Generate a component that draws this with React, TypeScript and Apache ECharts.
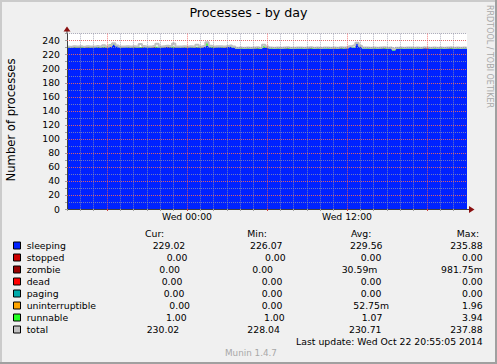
import React, { useEffect, useRef } from "react";
import * as echarts from "echarts";

const FONT = "DejaVu Sans";

// x categories: Tue 15:00 .. Wed 21:00 every 15 minutes
const START_MINUTES = 15 * 60;
const STEP_MINUTES = 15;
const POINT_COUNT = 121;
const pad2 = (n: number) => String(n).padStart(2, "0");
const categories: string[] = Array.from({ length: POINT_COUNT }, (_, i) => {
  const m = START_MINUTES + i * STEP_MINUTES;
  const day = m >= 1440 ? "Wed" : "Tue";
  const mm = m % 1440;
  return `${day} ${pad2(Math.floor(mm / 60))}:${pad2(mm % 60)}`;
});
const xTickLabels = ["Wed 00:00", "Wed 12:00"];
const majorHours = [0, 6, 12, 18];

const sleeping = [
  230.5, 230.2, 230.8, 230.4, 230.6, 230.1, 230.9, 230.3, 230.5, 230.7,
  230.2, 230.6, 230.4, 231.5, 234.6, 232.0, 230.3, 230.5, 230.8, 230.2,
  230.6, 230.4, 230.1, 230.7, 230.5, 230.3, 230.9, 230.4, 230.2, 230.6,
  231.2, 230.8, 230.4, 230.5, 230.3, 230.7, 230.4, 230.6, 230.2, 230.5,
  230.3, 231.0, 232.5, 230.6, 230.4, 230.8, 230.5, 230.2, 230.9, 231.8,
  230.4, 229.0, 228.8, 228.6, 229.0, 228.7, 228.9, 229.2, 228.5, 229.6,
  230.2, 229.0, 228.7, 228.9, 228.6, 228.8, 229.1, 228.7, 228.5, 228.9,
  229.0, 228.6, 228.8, 229.2, 228.7, 228.9, 228.4, 228.8, 229.0, 228.7,
  228.9, 228.6, 229.3, 228.8, 229.4, 231.0, 229.8, 235.88, 231.5, 229.0,
  228.8, 228.6, 229.0, 228.7, 228.9, 229.2, 228.6, 228.8, 226.07, 228.7,
  228.9, 228.5, 228.8, 229.0, 228.6, 228.9, 228.7, 229.1, 228.8, 228.6,
  229.0, 228.7, 228.9, 228.6, 228.8, 229.1, 228.7, 228.9, 228.6, 228.8,
  229.02,
];
const stopped = new Array(POINT_COUNT).fill(0);
const zombie = [
  0, 0, 0, 0, 0, 0, 0, 0, 0, 0,
  0, 0, 0, 0, 0, 0, 0, 0, 0, 0,
  0, 0, 0, 0, 0, 0, 0, 0, 0, 0,
  0, 0, 0, 0, 0, 0, 0, 0, 0, 0,
  0, 0, 0, 0, 0, 0, 0, 0, 0, 0,
  0, 0, 0, 0, 0, 0, 0, 0, 0, 0,
  0, 0, 0, 0, 0, 0, 0, 0, 0, 0,
  0, 0, 0, 0, 0, 0, 0, 0, 0, 0,
  0, 0, 0, 0, 0, 0, 0, 0, 0, 0,
  0, 0, 0, 0, 0, 0, 0, 0, 0, 0,
  0, 0, 0, 0, 0, 0, 0, 0, 0.98, 0,
  0, 0, 0, 0, 0, 0, 0, 0, 0, 0,
  0,
];
const dead = new Array(POINT_COUNT).fill(0);
const paging = new Array(POINT_COUNT).fill(0);
const uninterruptible = [
  0, 0, 0, 0, 0, 0, 0, 0, 0, 0,
  0, 0, 0, 1.96, 0, 0, 0, 0, 0, 0,
  0, 0, 0, 0, 0, 0, 0, 0, 0, 0,
  1, 0, 0, 0, 0, 0, 0, 0, 0, 0,
  0, 0, 0, 0, 0, 0, 0, 0, 0, 0,
  0, 0, 0, 0, 0, 0, 0, 0, 0, 0,
  0, 0, 0, 0, 0, 0, 0, 0, 0, 0,
  0, 0, 0, 0, 0, 0, 0, 0, 0, 0,
  1, 0, 0, 0, 0, 0, 0, 0, 0, 0,
  0, 0, 0, 0, 0, 0, 0, 0, 0, 0,
  0, 0, 0, 0, 0, 0, 0, 0, 0, 0,
  0, 0, 0, 0, 0, 0, 0, 0, 0, 0,
  0,
];
const runnable = [
  1, 1, 1, 1, 1, 1, 1, 1, 1, 1,
  1, 1, 1, 1, 1, 1, 1, 1, 1, 1,
  2, 1, 1, 1, 1, 1, 1, 1, 1, 1,
  1, 1, 1, 1, 1, 1, 1, 1, 1, 1,
  1, 1, 3.94, 1, 1, 1, 1, 1, 1, 1,
  1, 1, 1, 1, 1, 1, 1, 1, 1, 2.6,
  1, 1, 1, 1, 1, 1, 1, 1, 1, 1,
  1, 1, 1, 1, 1, 2, 1, 1, 1, 1,
  1, 1, 1, 1, 1, 1, 1, 1, 1, 1,
  1, 1, 1, 1, 1, 1, 1, 1, 1.95, 1,
  2, 1, 1, 1, 1, 1, 1, 1, 1, 1,
  1, 1, 1, 1, 1, 1, 1, 1, 1, 1,
  1,
];
const total = [
  231.7, 231.5, 232.0, 231.7, 232.2, 231.3, 232.1, 231.7, 231.8, 232.3,
  231.7, 233.5, 231.9, 233.2, 236.3, 233.2, 231.7, 231.6, 232.1, 231.7,
  232.1, 231.9, 235.2, 232.3, 231.7, 231.8, 232.5, 235.7, 231.7, 232.1,
  232.7, 232.3, 236.2, 231.7, 231.8, 232.1, 231.7, 232.0, 231.7, 234.2,
  231.7, 232.5, 237.88, 232.7, 231.9, 232.2, 232.0, 231.7, 232.3, 233.3,
  231.7, 230.0, 230.2, 229.8, 230.4, 230.0, 230.2, 230.6, 229.8, 234.2,
  231.7, 230.2, 230.0, 230.4, 230.1, 230.2, 230.8, 230.0, 229.9, 230.2,
  230.4, 230.0, 230.2, 230.6, 230.0, 230.3, 229.8, 230.2, 230.4, 230.1,
  230.3, 230.0, 230.6, 230.2, 230.8, 232.2, 233.2, 237.0, 232.7, 230.4,
  230.2, 230.0, 230.4, 230.1, 230.3, 230.6, 230.0, 230.2, 228.04, 230.1,
  230.3, 229.9, 230.2, 230.4, 230.0, 230.3, 230.1, 230.5, 230.2, 230.0,
  230.4, 230.1, 230.3, 230.0, 230.2, 230.5, 230.1, 230.3, 230.0, 230.2,
  230.02,
];

const seriesNames = ["sleeping", "stopped", "zombie", "dead", "paging", "uninterruptible", "runnable", "total"];
const seriesColors = ["#0022ff", "#cc0000", "#990000", "#ff0000", "#00aaaa", "#ffa500", "#22ff22", "#c0c0c0"];

const statHeaders = ["Cur:", "Min:", "Avg:", "Max:"];
const curVals = ["229.02", "0.00", "0.00", "0.00", "0.00", "0.00", "1.00", "230.02"];
const minVals = ["226.07", "0.00", "0.00", "0.00", "0.00", "0.00", "1.00", "228.04"];
const avgVals = ["229.56", "0.00", "30.59m", "0.00", "0.00", "52.75m", "1.07", "230.71"];
const maxVals = ["235.88", "0.00", "981.75m", "0.00", "0.00", "1.96", "3.94", "237.88"];

const titleText = "Processes - by day";
const yTitle = "Number of processes";
const lastUpdate = "Last update: Wed Oct 22 20:55:05 2014";
const footer = "Munin 1.4.7";
const sideText = "RRDTOOL / TOBI OETIKER";

// text layout (rrdtool legend is space-justified, so columns are irregular)
const headerX = [145, 247.3, 351, 456.7];
const curX = [152.7, 166.7, 159.3, 161.7, 163.7, 169.3, 166, 146.7];
const minX = [250, 265, 252.3, 261.7, 261.7, 261.7, 264, 247.3];
const avgX = [350, 360.7, 341.7, 360.7, 360.7, 353.3, 361.7, 349];
const maxRight = 482.7;

const parseHM = (v: string) => {
  const hm = v.split(" ")[1].split(":");
  return { h: Number(hm[0]), m: Number(hm[1]) };
};
const isMajor = (v: string) => {
  const t = parseHM(v);
  return t.m === 0 && majorHours.includes(t.h);
};
const isMinor = (i: number, v: string) => {
  const t = parseHM(v);
  return i < POINT_COUNT - 1 && t.m === 0 && !majorHours.includes(t.h);
};

export default function App() {
  const ref = useRef<HTMLDivElement>(null);
  useEffect(() => {
    if (!ref.current) return;
    const chart = echarts.init(ref.current, null, { renderer: "svg" });
    const minorGrid = { color: "rgba(150,150,170,0.75)", width: 1, type: [1, 1] as any };
    const majorGrid = { color: "rgba(240,90,90,0.8)", width: 1, type: [1, 1] as any };
    const txt = (x: number, y: number, text: string, extra: any = {}) => ({
      type: "text",
      x,
      y,
      silent: true,
      style: {
        text,
        fontSize: 9.3,
        fontFamily: FONT,
        fill: "#000",
        align: "left",
        verticalAlign: "middle",
        ...extra,
      },
    });
    const rowY = (k: number) => 245.6 + 11.95 * k;
    const graphics: any[] = [];
    // frame
    graphics.push({ type: "rect", silent: true, shape: { x: 0, y: 0, width: 497, height: 2 }, style: { fill: "#cbcbcb" } });
    graphics.push({ type: "rect", silent: true, shape: { x: 0, y: 0, width: 2, height: 364 }, style: { fill: "#cbcbcb" } });
    graphics.push({ type: "rect", silent: true, shape: { x: 0, y: 362, width: 497, height: 2 }, style: { fill: "#a0a0a0" } });
    graphics.push({ type: "rect", silent: true, shape: { x: 495, y: 0, width: 2, height: 364 }, style: { fill: "#a0a0a0" } });
    // arrows
    graphics.push({ type: "line", silent: true, shape: { x1: 67, y1: 34, x2: 67, y2: 29 }, style: { stroke: "#404040", lineWidth: 1 } });
    graphics.push({ type: "polygon", silent: true, shape: { points: [[63.5, 31.5], [67, 26.5], [70.5, 31.5]] }, style: { fill: "#8a1010" } });
    graphics.push({ type: "line", silent: true, shape: { x1: 466, y1: 209.5, x2: 471, y2: 209.5 }, style: { stroke: "#404040", lineWidth: 1 } });
    graphics.push({ type: "polygon", silent: true, shape: { points: [[469, 206], [474.5, 209.5], [469, 213]] }, style: { fill: "#8a1010" } });
    // y title
    graphics.push({
      type: "text", x: 10.7, y: 120, rotation: Math.PI / 2, silent: true,
      style: { text: yTitle, fontSize: 11.6, fontFamily: FONT, fill: "#000", align: "center", verticalAlign: "middle" },
    });
    // side text
    graphics.push({
      type: "text", x: 489.3, y: 56.5, rotation: -Math.PI / 2, silent: true,
      style: { text: sideText, fontSize: 8, fontFamily: FONT, fill: "#a8a8a8", align: "center", verticalAlign: "middle" },
    });
    // legend header
    statHeaders.forEach((h, j) => graphics.push(txt(headerX[j], 233.3, h)));
    seriesNames.forEach((name, k) => {
      const y = rowY(k);
      graphics.push({
        type: "rect", silent: true,
        shape: { x: 13.5, y: Math.round(y - 3.5), width: 7, height: 7 },
        style: { fill: seriesColors[k], stroke: "#000", lineWidth: 1 },
      });
      graphics.push(txt(26.7, y, name));
      graphics.push(txt(curX[k], y, curVals[k]));
      graphics.push(txt(minX[k], y, minVals[k]));
      graphics.push(txt(avgX[k], y, avgVals[k]));
      graphics.push(txt(maxRight, y, maxVals[k], { align: "right" }));
    });
    graphics.push(txt(maxRight, 341.7, lastUpdate, { align: "right" }));
    graphics.push(txt(251, 352.7, footer, { align: "center", fontSize: 8.8, fill: "#a8a8a8" }));

    const stackData = [sleeping, stopped, zombie, dead, paging, uninterruptible, runnable];
    const series: any[] = [
      ...stackData.map((d, k) => ({
        name: seriesNames[k], type: "line", stack: "procs", data: d, step: "middle", symbol: "none", showSymbol: false,
        lineStyle: { width: 0 }, areaStyle: { color: seriesColors[k], opacity: 1 }, z: 2, silent: true,
        emphasis: { disabled: true },
      })),
      {
        name: "total", type: "line", data: total, step: "middle", symbol: "none", showSymbol: false,
        lineStyle: { width: 2, color: seriesColors[7] }, z: 3, silent: true,
        emphasis: { disabled: true },
      },
    ];

    chart.setOption({
      animation: false,
      backgroundColor: "#f0f0f0",
      title: {
        text: titleText, left: "center", top: 6, padding: 0,
        textStyle: { fontFamily: FONT, fontSize: 12.7, fontWeight: "normal", color: "#000" },
      },
      grid: {
        left: 67, right: 30, top: 33.7, bottom: 155, containLabel: false, outerBoundsMode: "none",
        show: true, backgroundColor: "#ffffff", borderWidth: 0,
      },
      xAxis: [
        {
          type: "category", data: categories, boundaryGap: false, position: "bottom", zlevel: 1, z: 5,
          axisLine: { show: true, lineStyle: { color: "#404040", width: 1 } },
          axisTick: { show: true, length: 2, interval: (i: number, v: string) => isMinor(i, v), lineStyle: { color: "#a0a0a0" } },
          axisLabel: {
            show: true, interval: (_i: number, v: string) => xTickLabels.includes(v), margin: 3,
            fontSize: 9.3, fontFamily: FONT, color: "#000",
          },
          splitLine: { show: true, interval: (i: number, v: string) => isMinor(i, v), lineStyle: minorGrid },
        },
        {
          type: "category", data: categories, boundaryGap: false, position: "bottom", zlevel: 1, z: 6,
          axisLine: { show: false },
          axisTick: { show: true, length: 2, interval: (_i: number, v: string) => isMajor(v), lineStyle: { color: "#d04040" } },
          axisLabel: { show: false },
          splitLine: { show: true, interval: (_i: number, v: string) => isMajor(v), lineStyle: majorGrid },
        },
      ],
      yAxis: [
        {
          type: "value", min: 0, max: 250, interval: 10, position: "left", offset: 0, zlevel: 1, z: 5,
          axisLine: { show: true, lineStyle: { color: "#404040", width: 1 } },
          axisTick: { show: true, length: 2, lineStyle: { color: "#a0a0a0" } },
          axisLabel: { show: false },
          splitLine: { show: true, showMinLine: false, showMaxLine: true, lineStyle: minorGrid },
        },
        {
          type: "value", min: 0, max: 250, interval: 20, position: "left", offset: 0, zlevel: 1, z: 6,
          axisLine: { show: false },
          axisTick: { show: false },
          axisLabel: { show: true, showMaxLabel: false, margin: 7, fontSize: 9.3, fontFamily: FONT, color: "#000" },
          splitLine: { show: true, showMinLine: false, showMaxLine: false, lineStyle: majorGrid },
        },
      ],
      series,
      graphic: graphics,
    });
    return () => chart.dispose();
  }, []);
  return <div ref={ref} style={{ position: "absolute", left: 0, top: 0, width: 497, height: 364 }} />;
}
